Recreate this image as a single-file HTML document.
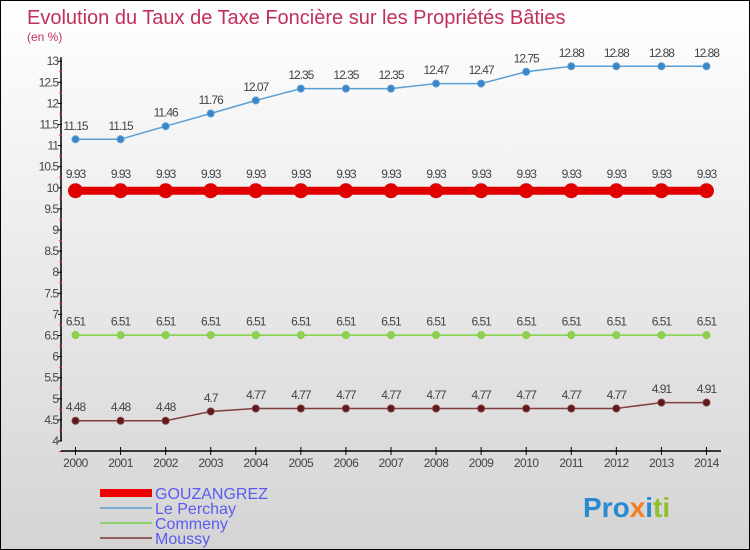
<!DOCTYPE html>
<html><head><meta charset="utf-8"><style>
body{margin:0;}
#c{position:relative;width:748px;height:548px;border:1px solid #000;background:linear-gradient(#ffffff,#d4d4d4);font-family:"Liberation Sans",sans-serif;overflow:hidden;}
</style></head><body>
<div id="c">
<svg id="s" width="748" height="548" style="position:absolute;left:0;top:0">
<text x="26" y="23" font-size="20" fill="#c0305a">Evolution du Taux de Taxe Foncière sur les Propriétés Bâties</text>
<text x="26" y="40" font-size="12" fill="#c0305a">(en %)</text>
<g id="axes"></g><g id="series"></g>
<g>
<rect x="99" y="488" width="52" height="8" fill="#e00"/>
<text x="154" y="498" font-size="16" fill="#5a5af0">GOUZANGREZ</text>
<rect x="99" y="506" width="52" height="2" fill="#7aaad0"/>
<text x="154" y="513" font-size="16" fill="#5a5af0">Le Perchay</text>
<rect x="99" y="521" width="52" height="2" fill="#90d070"/>
<text x="154" y="528" font-size="16" fill="#5a5af0">Commeny</text>
<rect x="99" y="536" width="52" height="2" fill="#906060"/>
<text x="154" y="543" font-size="16" fill="#5a5af0">Moussy</text>
</g>
<text x="582" y="516" font-size="28" font-weight="bold"><tspan fill="#2a8ad0">Pro</tspan><tspan fill="#f08020">x</tspan><tspan fill="#2a8ad0">i</tspan><tspan fill="#90c030">ti</tspan></text>
</svg>
</div>
<script>
const years=[2000,2001,2002,2003,2004,2005,2006,2007,2008,2009,2010,2011,2012,2013,2014];
const gouzangrez=[9.93,9.93,9.93,9.93,9.93,9.93,9.93,9.93,9.93,9.93,9.93,9.93,9.93,9.93,9.93];
const lePerchay=[11.15,11.15,11.46,11.76,12.07,12.35,12.35,12.35,12.47,12.47,12.75,12.88,12.88,12.88,12.88];
const commeny=[6.51,6.51,6.51,6.51,6.51,6.51,6.51,6.51,6.51,6.51,6.51,6.51,6.51,6.51,6.51];
const moussy=[4.48,4.48,4.48,4.7,4.77,4.77,4.77,4.77,4.77,4.77,4.77,4.77,4.77,4.91,4.91];
const yTicks=[4,4.5,5,5.5,6,6.5,7,7.5,8,8.5,9,9.5,10,10.5,11,11.5,12,12.5,13];
const NS="http://www.w3.org/2000/svg";
const X=i=>74.5+i*45.07;
const Y=v=>440-(v-4)*42.2;
function el(t,a,p){const e=document.createElementNS(NS,t);for(const k in a)e.setAttribute(k,a[k]);p.appendChild(e);return e;}
const ax=document.getElementById('axes');
let yl=el('line',{x1:60,y1:Y(13)-4,x2:60,y2:Y(4),stroke:'#000','stroke-width':1.5},ax);


yTicks.forEach((v,i)=>{
 el('line',{x1:57,x2:61,y1:Y(v),y2:Y(v),stroke:'#000'},ax);
 el('line',{x1:58,x2:61,y1:Y(v)+10.5,y2:Y(v)+10.5,stroke:'#e33'},ax);
 const t=el('text',{x:57,y:Y(v)+4,'font-size':12,fill:'#444','text-anchor':'end','letter-spacing':'-1'},ax);
 t.textContent=String(v);
 
 
});
let xl=el('line',{x1:60,y1:450,x2:720,y2:450,stroke:'#000','stroke-width':1.5},ax);


years.forEach((y,i)=>{
 el('line',{x1:X(i),x2:X(i),y1:446,y2:454,stroke:'#000'},ax);
 const t=el('text',{x:X(i),y:466,'font-size':12,fill:'#444','text-anchor':'middle','letter-spacing':'-0.5'},ax);
 t.textContent=y;
 
 
});
const sg=document.getElementById('series');
function series(name,data,color,fill,w,r){
 const g=el('g',{},sg);
 
 
 const p=el('polyline',{points:data.map((v,i)=>X(i)+','+Y(v)).join(' '),fill:'none',stroke:color,'stroke-width':w},g);
 
 
 data.forEach((v,i)=>{
  const c=el('circle',{cx:X(i),cy:Y(v),r:r,fill:fill,stroke:color,'stroke-width':1},g);
  
  
  const t=el('text',{x:X(i),y:Y(v)-(r+6),'font-size':12,fill:'#444','text-anchor':'middle','letter-spacing':'-1'},g);
  t.textContent=String(v);
  
  
 });
}
series('le-perchay',lePerchay,'#5a9fd4','#3a86c6',1.5,3.5);
series('commeny',commeny,'#80d040','#8ed050',1.5,3.5);
series('moussy',moussy,'#804040','#601818',1.5,3.5);
series('gouzangrez',gouzangrez,'#e00000','#e00000',8,7);
</script>
</body></html>
